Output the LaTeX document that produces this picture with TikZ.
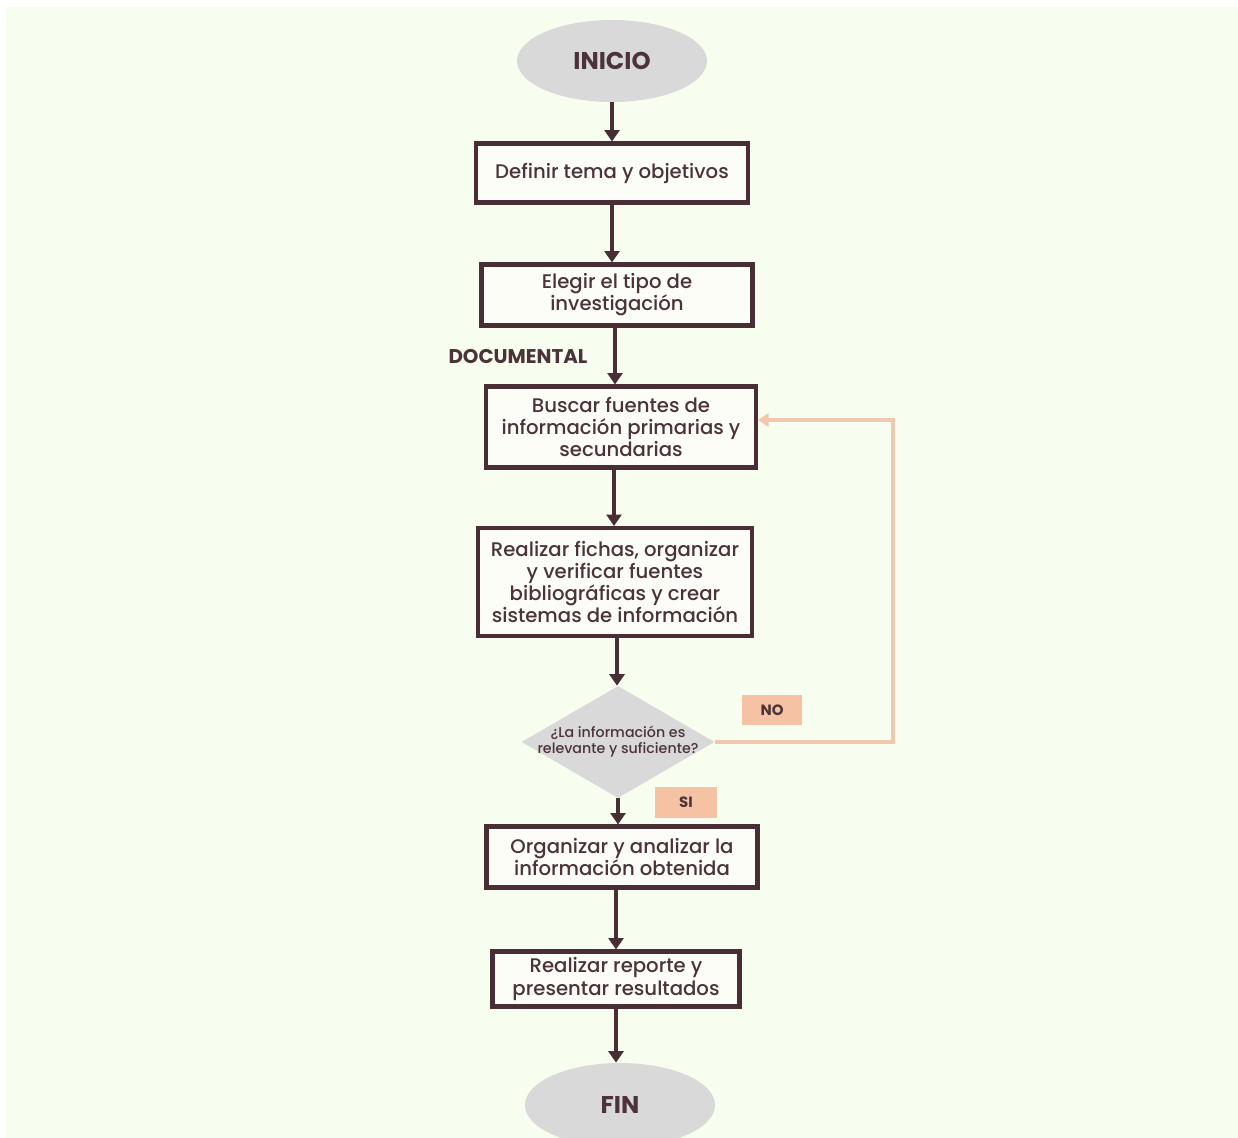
\documentclass[tikz,border=0pt]{standalone}
\usepackage{fontspec}
\setmainfont{Poppins}[UprightFont=* Medium, BoldFont=* Bold]
\usetikzlibrary{shapes.geometric,arrows.meta,calc}
\definecolor{bgc}{HTML}{F7FDEF}
\definecolor{maroon}{HTML}{4A2E35}
\definecolor{txt}{HTML}{4B3339}
\definecolor{graysh}{HTML}{D9D9D9}
\definecolor{peach}{HTML}{F5C3A3}
\definecolor{peachline}{HTML}{F1C8AE}
\definecolor{boxfill}{HTML}{FBFDF6}
\begin{document}
\begin{tikzpicture}[x=0.02cm,y=-0.02cm,
  procbox/.style={draw=maroon, line width=2.3pt, fill=boxfill, text=txt, align=center,
    inner sep=0pt, font=\fontsize{11.2}{12.6}\selectfont},
  termnode/.style={ellipse, fill=graysh, text=txt, inner sep=0pt,
    font=\fontsize{13.8}{16}\selectfont\bfseries},
  decnode/.style={diamond, fill=graysh, inner sep=0pt},
  dectxt/.style={text=txt, inner sep=0pt, align=center, font=\fontsize{8.1}{9.2}\selectfont},
  tagbox/.style={fill=peach, text=txt, inner sep=0pt, font=\fontsize{8.5}{10}\selectfont\bfseries},
  arr/.style={draw=maroon, line width=2.8pt, -{Triangle[width=8.5pt,length=6.5pt]}},
  noarr/.style={draw=peachline, line width=2.3pt, -{Triangle[width=7.5pt,length=6pt]}}
]
\useasboundingbox (0,0) rectangle (1238,1138);
\clip (0,0) rectangle (1238,1138);
\fill[white] (0,0) rectangle (1238,1138);
\fill[bgc] (6,7) rectangle (1238,1138);

\node[termnode, minimum width=190*0.02cm, minimum height=82*0.02cm] (inicio) at (612,61) {INICIO};
\node[procbox, minimum width=272*0.02cm, minimum height=59*0.02cm] (b1) at (612,173) {Definir tema y objetivos};
\node[procbox, minimum width=271*0.02cm, minimum height=61*0.02cm] (b2) at (617,295) {Elegir el tipo de\\investigación};
\node[text=txt, font=\fontsize{11.3}{13}\selectfont\bfseries] (doc) at (518,357) {DOCUMENTAL};
\node[procbox, minimum width=270*0.02cm, minimum height=81*0.02cm] (b3) at (621,427) {Buscar fuentes de\\información primarias y\\secundarias};
\node[procbox, minimum width=274*0.02cm, minimum height=108*0.02cm] (b4) at (615,582) {Realizar fichas, organizar\\y verificar fuentes\\bibliográficas y crear\\sistemas de información};
\node[decnode, minimum width=193*0.02cm, minimum height=112*0.02cm] (dec) at (618,742) {};
\node[dectxt] (dectext) at (dec.center) {¿La información es\\relevante y suficiente?};
\node[tagbox, minimum width=60*0.02cm, minimum height=30*0.02cm] (no) at (772,710) {NO};
\node[tagbox, minimum width=62*0.02cm, minimum height=31*0.02cm] (si) at (686,802) {SI};
\node[procbox, minimum width=271*0.02cm, minimum height=61*0.02cm] (b5) at (622,857) {Organizar y analizar la\\información obtenida};
\node[procbox, minimum width=247*0.02cm, minimum height=55*0.02cm] (b6) at (616,979) {Realizar reporte y\\presentar resultados};
\node[termnode, minimum width=190*0.02cm, minimum height=84*0.02cm] (fin) at (620,1105) {FIN};

\draw[arr] (inicio.south) -- (inicio.south |- b1.north);
\draw[arr] (b1.south) -- (b1.south |- b2.north);
\draw[arr] ([xshift=-2*0.02cm]b2.south) -- ([xshift=-2*0.02cm]b2.south |- b3.north);
\draw[arr] ([xshift=-7*0.02cm]b3.south) -- ([xshift=-7*0.02cm]b3.south |- b4.north);
\draw[arr] ([xshift=2*0.02cm]b4.south) -- ([xshift=2*0.02cm]b4.south |- dec.north);
\draw[arr] (dec.south) -- (dec.south |- b5.north);
\draw[arr] ([xshift=-6*0.02cm]b5.south) -- ([xshift=-6*0.02cm]b5.south |- b6.north);
\draw[arr] (b6.south) -- (b6.south |- fin.north);

\coordinate (nocorner) at (893,742);
\draw[noarr] (dec.east) -- (nocorner) |- ([yshift=7*0.02cm]b3.east);
\end{tikzpicture}
\end{document}
